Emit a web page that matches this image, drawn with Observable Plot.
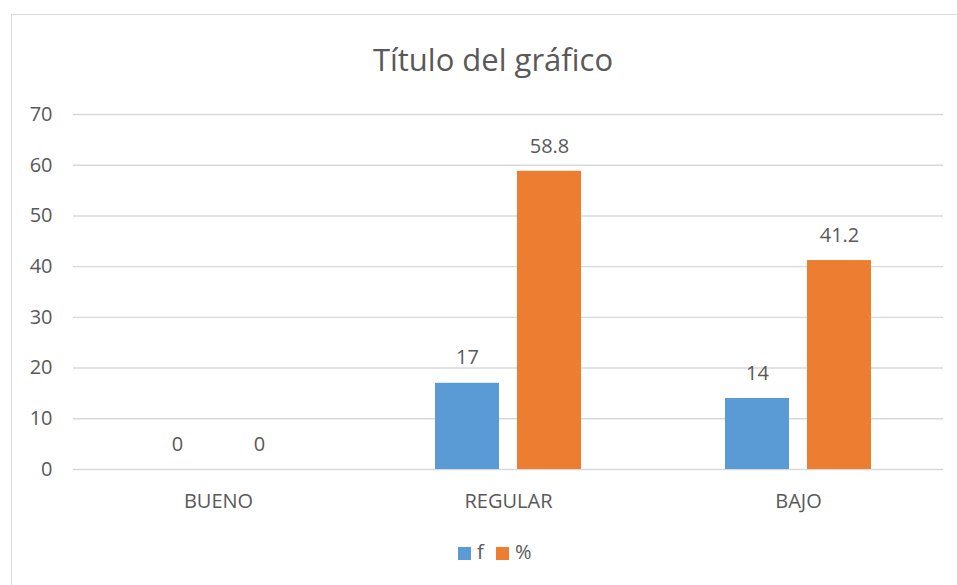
<!DOCTYPE html>
<html>
<head>
<meta charset="utf-8">
<script src="https://cdn.jsdelivr.net/npm/d3@7"></script>
<script src="https://cdn.jsdelivr.net/npm/@observablehq/plot@0.6"></script>
<style>
  html, body { margin: 0; padding: 0; background: #fff; }
  #chart { position: relative; width: 957px; height: 585px; overflow: hidden; font-family: "Open Sans", sans-serif; color: #595959; }
  #frame { position: absolute; left: 11px; top: 14px; width: 980px; height: 620px; border: 1.5px solid #d9d9d9; box-sizing: border-box; }
  #title { position: absolute; left: 0; top: 43.5px; width: 986px; text-align: center; font-size: 31px; line-height: 31px; }
  #plot { position: absolute; left: 0; top: 0; }
  .sw { position: absolute; width: 13px; height: 13px; top: 547px; }
  .lt { position: absolute; top: 542px; font-size: 20px; line-height: 20px; }
</style>
</head>
<body>
<div id="chart">
  <div id="frame"></div>
  <div id="plot"></div>
  <div id="title">Título del gráfico</div>
  <div id="legend"></div>
</div>
<script>
// Categories and the two series (frequency and percentage)
const categories = ["BUENO", "REGULAR", "BAJO"];
const series = ["f", "%"];
const fValues = [0, 17, 14];
const pctValues = [0, 58.8, 41.2];
const yTicks = [0, 10, 20, 30, 40, 50, 60, 70];
const colors = ["#5B9BD5", "#ED7D31"];

const rows = [];
categories.forEach((c, i) => {
  rows.push({cat: c, serie: "f", value: fValues[i]});
  rows.push({cat: c, serie: "%", value: pctValues[i]});
});

const chart = Plot.plot({
  width: 957,
  height: 585,
  marginTop: 114,
  marginBottom: 116,
  marginLeft: 73,
  marginRight: 14,
  style: {fontFamily: "Open Sans, sans-serif", fontSize: "20px", color: "#595959", background: "transparent"},
  y: {domain: [0, 70], axis: null},
  fx: {domain: categories, paddingInner: 0, paddingOuter: 0, axis: null, label: null},
  x: {domain: series, paddingInner: 0.22, paddingOuter: 0.878, axis: null},
  color: {domain: series, range: colors},
  marks: [
    Plot.ruleY(yTicks, {stroke: "#d9d9d9", strokeWidth: 1.4}),
    Plot.axisY({ticks: yTicks, tickSize: 0, tickPadding: 21, fontSize: 20, label: null}),
    Plot.axisFx({anchor: "bottom", tickSize: 0, tickPadding: 24, fontSize: 20, label: null}),
    Plot.barY(rows, {fx: "cat", x: "serie", y: "value", fill: "serie"}),
    Plot.text(rows, {fx: "cat", x: "serie", y: "value", text: d => String(d.value), dy: -25.2, fontSize: 20, fill: "#595959"})
  ]
});
document.getElementById("plot").appendChild(chart);

// Legend below the plot
const legend = document.getElementById("legend");
const items = [{s: "f", sw: 458, tx: 477}, {s: "%", sw: 496, tx: 515}];
items.forEach((it, i) => {
  const sw = document.createElement("div");
  sw.className = "sw";
  sw.style.left = it.sw + "px";
  sw.style.background = colors[i];
  legend.appendChild(sw);
  const t = document.createElement("div");
  t.className = "lt";
  t.style.left = it.tx + "px";
  t.textContent = series[i];
  legend.appendChild(t);
});
</script>
</body>
</html>
